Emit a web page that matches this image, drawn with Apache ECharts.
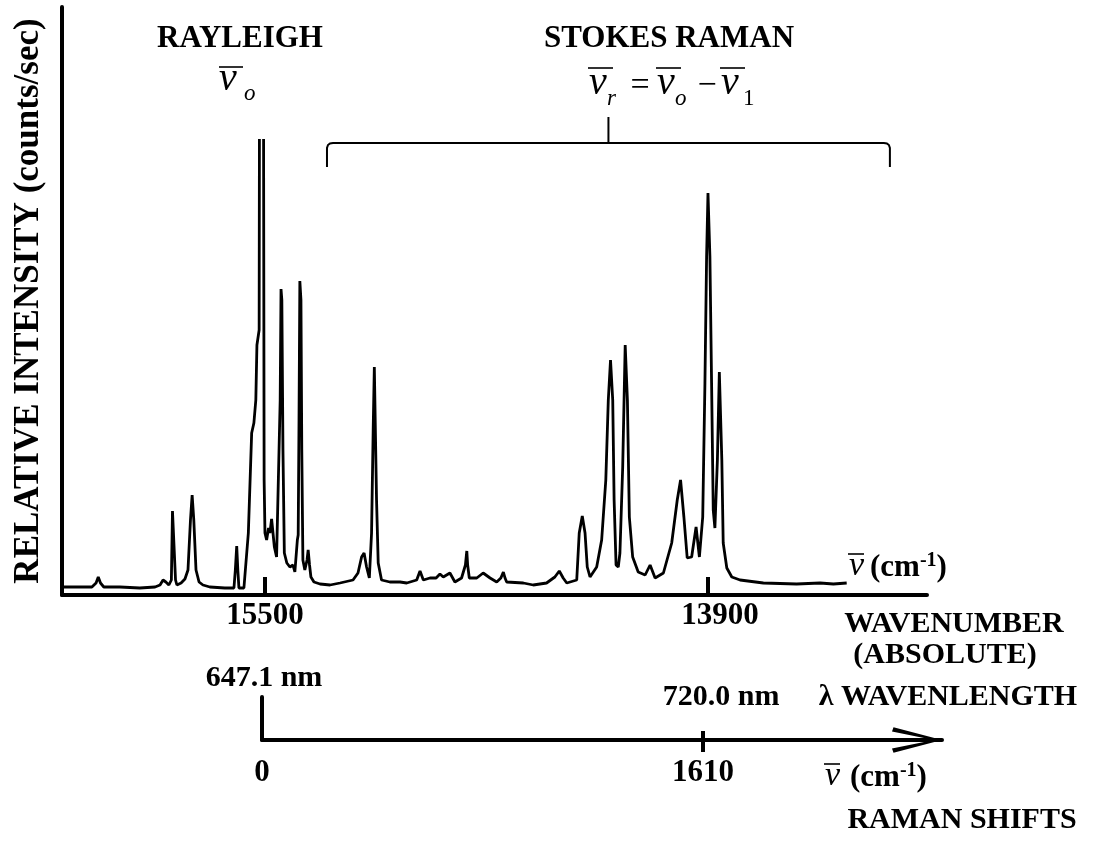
<!DOCTYPE html>
<html><head><meta charset="utf-8">
<script src="https://cdn.jsdelivr.net/npm/echarts@6/dist/echarts.min.js"></script>
<style>html,body{margin:0;padding:0;background:#fff}#c{width:1106px;height:844px}</style>
</head><body><div id="c"></div>
<script>
// ---- data (wavenumber in cm^-1, relative intensity in arbitrary counts) ----
const rayleighWavenumber = [16233,16168,16125,16110,16102,16094,16082,16024,15952,15897,15879,15868,15858,15847,15838,15834,15827,15823,15818,15803,15789,15778,15769,15763,15757,15749,15738,15724,15699,15645,15612,15607,15602,15598,15594,15576,15572,15560,15548,15540,15533,15529,15521,15520,15512,15505,15503,15500,15494,15487,15482,15476,15466,15458,15451,15445,15442,15439,15435,15430,15421,15410,15399,15392,15386,15383,15380,15377,15374,15370,15367,15363,15356,15348,15344,15339,15334,15323,15301,15265];
const rayleighIntensity = [8,8,8,12,18,12,8,8,7,8,10,15,13,10,15,84,84,15,10,12,16,25,75,100,75,25,13,10,8,7,7,25,49,25,7,7,8,62,162,172,195,250,265,456,'-',456,115,62,55,67,62,76,48,38,40,195,306,295,145,42,32,28,30,23,24,55,60,175,314,295,145,35,25,35,45,30,18,13,11,10];
const stokesWavenumber = [15229,15182,15164,15151,15142,15133,15123,15115,15109,15105,15101,15097,15091,15079,15049,15012,14988,14952,14940,14928,14904,14882,14868,14856,14832,14814,14790,14776,14771,14768,14762,14735,14712,14687,14663,14648,14639,14633,14627,14567,14531,14483,14453,14437,14423,14410,14374,14365,14354,14344,14336,14326,14302,14284,14269,14260,14252,14244,14239,14232,14224,14218,14208,14199,14191,14184,14172,14152,14127,14109,14091,14061,14031,14011,13999,13987,13975,13959,13943,13931,13919,13911,13905,13900,13893,13887,13881,13875,13866,13859,13850,13845,13832,13814,13784,13700,13580,13495,13447,13399];
const stokesIntensity = [12,15,22,38,42,28,17,62,168,228,230,95,32,15,13,13,12,15,24,15,17,17,21,18,22,13,17,30,44,30,17,17,22,17,13,17,23,17,13,12,10,12,18,24,17,12,15,62,79,62,28,18,28,55,115,195,235,195,95,30,28,42,128,250,195,78,38,23,20,30,17,22,52,95,115,78,37,38,68,38,78,212,338,402,338,212,85,67,135,223,135,52,27,18,15,12,11,12,11,12];
const wavenumberTicks = [15500, 13900];
const ramanShiftTicks = [0, 1610];
const wavelengthTicks = ['647.1 nm', '720.0 nm'];
const stokesRange = [15276, 13243];

const chart = echarts.init(document.getElementById('c'));
const serif = '"Liberation Serif", "Times New Roman", serif';
const spectrum = [];
[[rayleighWavenumber, rayleighIntensity], [stokesWavenumber, stokesIntensity]].forEach(function (p) {
  p[0].forEach(function (w, i) { spectrum.push([w, p[1][i]]); });
});
const bold = {fontFamily: serif, fontWeight: 'bold', fontSize: 31, color: '#000'};
const noAxis = {axisLine: {show: false}, axisTick: {show: false}, axisLabel: {show: false}, splitLine: {show: false}};
const arrowPath = 'path://M12.5 0 L25 48 L21 49.5 L12.5 8 L4 49.5 L0 48 Z';

chart.setOption({
  animation: false,
  backgroundColor: '#fff',
  grid: [
    {left: 62, right: 179, top: 7, bottom: 249},
    {left: 262, right: 164, top: 697, bottom: 104},
    {left: 262, right: 164, top: 697, bottom: 104}
  ],
  xAxis: [
    {type: 'value', gridIndex: 0, min: 13109, max: 16233, inverse: true,
     axisLine: {show: true, onZero: false, lineStyle: {color: '#000', width: 4}},
     axisTick: {show: true, inside: true, length: 18, customValues: wavenumberTicks, lineStyle: {color: '#000', width: 4}},
     axisLabel: Object.assign({show: true, margin: 5, customValues: wavenumberTicks,
       formatter: function (v) { return v === wavenumberTicks[1] ? '{s|' + v + '}' : '{b|' + v + '}'; },
       rich: {b: Object.assign({}, bold), s: Object.assign({padding: [0, 0, 0, 24]}, bold)}}, bold),
     splitLine: {show: false}},
    {type: 'value', gridIndex: 1, min: 0, max: 2482,
     axisLine: {show: true, onZero: false, symbol: ['none', arrowPath], symbolSize: [26, 50], symbolOffset: [0, -25], lineStyle: {color: '#000', width: 4}},
     axisTick: {show: true, inside: false, length: 12, customValues: [ramanShiftTicks[1]], lineStyle: {color: '#000', width: 4}},
     axisLabel: Object.assign({show: true, margin: 17, customValues: ramanShiftTicks,
       formatter: function (v) { return String(v); }}, bold),
     splitLine: {show: false}},
    Object.assign({type: 'value', gridIndex: 2, min: 0, max: 2482}, noAxis,
     {axisTick: {show: true, inside: true, length: 9, customValues: [ramanShiftTicks[1]], lineStyle: {color: '#000', width: 4}}})
  ],
  yAxis: [
    {type: 'value', gridIndex: 0, min: 0, max: 588,
     axisLine: {show: true, lineStyle: {color: '#000', width: 4}}, axisTick: {show: false}, axisLabel: {show: false}, splitLine: {show: false},
     name: 'RELATIVE INTENSITY (counts/sec)', nameLocation: 'middle', nameRotate: 90, nameGap: 16,
     nameTextStyle: {fontFamily: serif, fontWeight: 'bold', fontSize: 35, color: '#000'}},
    {type: 'value', gridIndex: 1, min: 0, max: 1,
     axisLine: {show: true, lineStyle: {color: '#000', width: 4}}, axisTick: {show: false}, axisLabel: {show: false}, splitLine: {show: false}},
    Object.assign({type: 'value', gridIndex: 2, min: 0, max: 1}, noAxis)
  ],
  series: [{type: 'line', xAxisIndex: 0, yAxisIndex: 0, data: spectrum, symbol: 'none', showSymbol: false,
            connectNulls: false, lineStyle: {color: '#000', width: 2.8}, z: 3}]
});

const px = function (v) { return chart.convertToPixel({xAxisIndex: 0}, v); };
const rx = function (v) { return chart.convertToPixel({xAxisIndex: 1}, v); };
const bL = px(stokesRange[0]), bR = px(stokesRange[1]), bM = (bL + bR) / 2;

function txt(text, x, y, size, align) {
  return {type: 'text', x: x, y: y, z: 10, style: {text: text, fill: '#000', align: align || 'center', verticalAlign: 'middle',
          fontFamily: serif, fontWeight: 'bold', fontSize: size || 31}};
}
function glyph(text, x, y, font, align) {
  return {type: 'text', x: x, y: y, z: 10, style: {text: text, fill: '#000', align: align || 'left', verticalAlign: 'middle', font: font}};
}
function bar(x1, x2, y) {
  return {type: 'line', z: 10, shape: {x1: x1, y1: y, x2: x2, y2: y}, style: {stroke: '#000', lineWidth: 1.6}};
}
const NUF = 'italic 40px ' + serif;
const NUS = 'italic 34px ' + serif;
const SUBI = 'italic 23px ' + serif;
const SUBN = '23px ' + serif;
const OPF = '34px ' + serif;
const unitRich = {u: {fontFamily: serif, fontWeight: 'bold', fontSize: 31, lineHeight: 34, fill: '#000'},
                  p: {fontFamily: serif, fontWeight: 'bold', fontSize: 20, lineHeight: 12, verticalAlign: 'top', fill: '#000'}};
function unit(x, y) {
  return {type: 'text', x: x, y: y, z: 10, style: {text: '{u|(cm}{p|-1}{u|)}', align: 'left', verticalAlign: 'middle', rich: unitRich}};
}

const g = [
  txt('RAYLEIGH', 240, 39),
  glyph('ν', 219, 79, NUF), bar(219, 243, 67), glyph('o', 244, 94, SUBI),
  txt('STOKES RAMAN', 669, 39),
  glyph('ν', 589, 83, NUF), bar(588, 613, 68), glyph('r', 607, 99, SUBI),
  glyph('=', 640, 86, OPF, 'center'),
  glyph('ν', 657, 83, NUF), bar(656, 681, 68), glyph('o', 675, 99, SUBI),
  glyph('−', 707, 86, OPF, 'center'),
  glyph('ν', 721, 83, NUF), bar(720, 745, 68), glyph('1', 743, 99, SUBN),
  {type: 'polyline', z: 10, shape: {points: [[bL, 167], [bL, 148], [bL + 1, 145], [bL + 3, 143.5], [bL + 6, 143], [bR - 6, 143], [bR - 3, 143.5], [bR - 1, 145], [bR, 148], [bR, 167]]},
   style: {stroke: '#000', lineWidth: 2, fill: null}},
  {type: 'line', z: 10, shape: {x1: bM, y1: 117, x2: bM, y2: 143}, style: {stroke: '#000', lineWidth: 2}},
  glyph('ν', 849, 566, NUS), bar(848, 864, 554), unit(870, 568),
  txt('WAVENUMBER', 954, 624, 30),
  txt('(ABSOLUTE)', 945, 655, 30),
  txt(wavelengthTicks[0], rx(ramanShiftTicks[0]) + 2, 678, 30),
  txt(wavelengthTicks[1], rx(ramanShiftTicks[1]) + 18, 697, 30),
  txt('λ WAVENLENGTH', 948, 697, 30),
  glyph('ν', 825, 776, NUS), bar(824, 840, 764), unit(850, 778),
  txt('RAMAN SHIFTS', 962, 820, 30)
];
chart.setOption({graphic: g});
</script></body></html>
